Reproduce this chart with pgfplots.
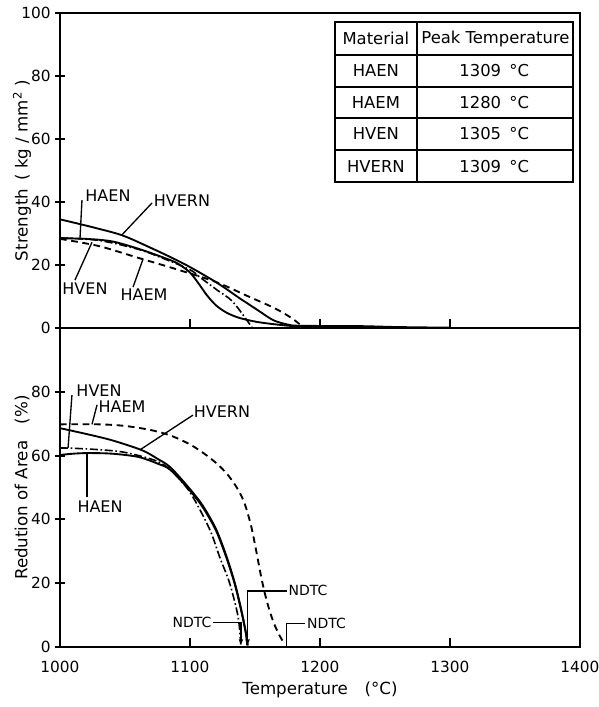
\documentclass[border=0pt]{standalone}
\usepackage{pgfplots}
\pgfplotsset{compat=1.18}
\usepackage{fontspec}
\setmainfont{DejaVu Sans}
\usetikzlibrary{arrows.meta}

\pgfplotstableread{
T S
1000 34.5
1025 32.0
1048 29.4
1069 25.6
1085 22.5
1098 19.8
1110 17.0
1121 14.3
1130 11.8
1138 9.5
1152 5.7
1164 2.5
1175 1.1
1185 0.7
1230 0.6
1260 0.3
1300 0.1
}\upHVERN
\pgfplotstableread{
T S
1000 28.5
1020 28.3
1040 27.5
1060 25.2
1078 22.6
1090 20.6
1100 17.6
1107 13.9
1113 10.4
1120 7.2
1128 4.9
1138 3.2
1152 1.9
1169 1.0
1185 0.4
1200 0.1
}\upHAEN
\pgfplotstableread{
T S
1000 28.6
1030 27.8
1060 25.0
1080 22.0
1100 18.5
1108 16.0
1121 12.0
1133 8.3
1148 0.0
}\upHVEN
\pgfplotstableread{
T S
1000 28.3
1030 26.0
1060 22.3
1090 18.6
1120 14.6
1145 10.0
1165 6.3
1178 3.2
1187 0.3
}\upHAEM

\pgfplotstableread{
T R
1000 68.6
1020 66.8
1040 64.8
1063 61.7
1075 59.0
1085 56.3
1100 49.5
1110 44.2
1120 37.0
1128 28.5
1134.5 20.0
1139.5 11.6
1143 4.5
1144.5 0.5
}\loHVERN
\pgfplotstableread{
T R
1000 60.2
1010 60.6
1022 60.8
1040 60.6
1060 59.6
1075 57.5
1085 55.5
1100 49.0
1110 43.7
1120 36.5
1128 28.0
1134.5 19.6
1139.5 11.2
1143 4.2
1144 0.5
}\loHAEN
\pgfplotstableread{
T R
1000 62.4
1010 62.3
1032 61.8
1050 61.0
1073 58.5
1085 55.5
1100 48.5
1115 37.0
1123 28.0
1130.5 20.0
1137 9.5
1139 0.8
}\loHVEN
\pgfplotstableread{
T R
1000 69.8
1030 69.8
1050 69.3
1070 68.0
1085 66.3
1100 63.5
1112 60.3
1122 57.0
1130 53.5
1137 49.3
1142 45.0
1147 38.0
1151 30.0
1155 21.5
1159 14.5
1164 8.0
1169 3.5
1173 0.8
}\loHAEM

\pgfplotsset{
  myaxis/.style={
    scale only axis, width=390pt,
    xmin=1000, xmax=1400, ymin=0, ymax=100,
    axis line style={line width=2pt},
    xtick pos=bottom, ytick pos=left,
    xtick align=inside, ytick align=center,
    major tick length=7pt,
    tick style={line width=1.4pt, black},
    /pgf/number format/1000 sep={},
    /pgf/number format/assume math mode=true,
    tick label style={font=\fontsize{11.5}{13}\selectfont},
    label style={font=\fontsize{12.5}{14}\selectfont},
    clip mode=individual,
  },
  solidc/.style={black, line width=1.4pt, smooth, tension=0.5},
  dashc/.style={black, line width=1.4pt, smooth, tension=0.5, dash pattern=on 5pt off 3.5pt},
  dotdashc/.style={black, line width=1.2pt, smooth, tension=0.5, dash pattern=on 6pt off 2pt on 1.2pt off 2pt},
}

\begin{document}
\begin{tikzpicture}
\begin{axis}[myaxis, name=top, at={(0pt,0pt)}, anchor=south west,
  height=236.25pt,
  xtick={1100,1200,1300}, xticklabels={},
  ytick={0,20,40,60,80,100},
  ylabel={Strength\enspace( kg / mm\textsuperscript{2} )},
  ylabel style={at={(axis description cs:-0.073,0.5)}, anchor=center},
]
\addplot[solidc] table[x=T,y=S] {\upHVERN};
\addplot[solidc] table[x=T,y=S] {\upHAEN};
\addplot[dotdashc] table[x=T,y=S] {\upHVEN};
\addplot[dashc] table[x=T,y=S] {\upHAEM};
\draw[line width=2pt] (rel axis cs:0,0) rectangle (rel axis cs:1,1);

\begin{scope}[font=\fontsize{12}{14}\selectfont, line width=1pt]
\node at (axis cs:1036.9,41.9) {HAEN};
\draw (axis cs:1016.9,40.6) -- (axis cs:1015.4,28.6);
\node at (axis cs:1093.8,40.3) {HVERN};
\draw (axis cs:1070.8,39.7) -- (axis cs:1047.7,29.6);
\node at (axis cs:1019.2,12.4) {HVEN};
\draw (axis cs:1011.5,15.2) -- (axis cs:1024.6,27.2);
\node at (axis cs:1064.6,10.5) {HAEM};
\draw (axis cs:1056.2,13) -- (axis cs:1063.8,21.8);
\end{scope}

\begin{scope}[line width=1.3pt]
\draw (axis cs:1211.5,97.1) rectangle (axis cs:1394.6,46.3);
\draw (axis cs:1274.6,97.1) -- (axis cs:1274.6,46.3);
\draw (axis cs:1211.5,86.7) -- (axis cs:1394.6,86.7);
\draw (axis cs:1211.5,76.5) -- (axis cs:1394.6,76.5);
\draw (axis cs:1211.5,66.7) -- (axis cs:1394.6,66.7);
\draw (axis cs:1211.5,56.5) -- (axis cs:1394.6,56.5);
\end{scope}
\begin{scope}[font=\fontsize{12.3}{14}\selectfont]
\node at (axis cs:1243,91.9) {Material};
\node at (axis cs:1335,91.9) {Peak Temperature};
\node at (axis cs:1243,81.6) {HAEN};
\node at (axis cs:1334,81.6) {1309\enspace °C};
\node at (axis cs:1243,71.6) {HAEM};
\node at (axis cs:1334,71.6) {1280\enspace °C};
\node at (axis cs:1243,61.6) {HVEN};
\node at (axis cs:1334,61.6) {1305\enspace °C};
\node at (axis cs:1243,51.4) {HVERN};
\node at (axis cs:1334,51.4) {1309\enspace °C};
\end{scope}
\end{axis}

\begin{axis}[myaxis, name=bot, at={(0pt,0pt)}, anchor=north west,
  height=239.25pt,
  xtick={1000,1100,1200,1300,1400},
  ytick={0,20,40,60,80},
  xticklabel style={yshift=-7pt},
  xlabel={Temperature\quad(°C)},
  xlabel style={at={(axis description cs:0.5,-0.135)}, anchor=center},
  ylabel={Redution of Area\quad(\%)},
  ylabel style={at={(axis description cs:-0.073,0.5)}, anchor=center},
]
\addplot[solidc] table[x=T,y=R] {\loHVERN};
\addplot[solidc] table[x=T,y=R] {\loHAEN};
\addplot[dotdashc] table[x=T,y=R] {\loHVEN};
\addplot[dashc] table[x=T,y=R] {\loHAEM};
\draw[line width=2pt] (rel axis cs:0,0) rectangle (rel axis cs:1,1);

\begin{scope}[font=\fontsize{12}{14}\selectfont, line width=1pt]
\node at (axis cs:1030,80.3) {HVEN};
\draw (axis cs:1009.2,79) -- (axis cs:1006.2,62.4);
\node at (axis cs:1047.7,75.2) {HAEM};
\draw (axis cs:1028.5,75.9) -- (axis cs:1024.6,69.8);
\node at (axis cs:1124.6,73.7) {HVERN};
\draw (axis cs:1102.3,72.7) -- (axis cs:1061.5,61.8);
\node at (axis cs:1030.8,43.9) {HAEN};
\draw (axis cs:1020.8,47) -- (axis cs:1020.8,60.6);
\end{scope}
\begin{scope}[font=\fontsize{10.5}{12}\selectfont, line width=1pt]
\node[anchor=east, inner sep=1pt] at (axis cs:1118,7.6) {NDTC};
\draw[-{Latex[length=5pt,width=3.5pt]}] (axis cs:1118,7.6) -- (axis cs:1139.2,7.6) -- (axis cs:1139.2,0.3);
\node[anchor=west, inner sep=1pt] at (axis cs:1174.4,17.6) {NDTC};
\draw[-{Latex[length=5pt,width=3.5pt]}] (axis cs:1174.4,17.6) -- (axis cs:1144.3,17.6) -- (axis cs:1144.3,0.3);
\node[anchor=west, inner sep=1pt] at (axis cs:1188.5,7.4) {NDTC};
\draw (axis cs:1188.5,7.4) -- (axis cs:1174.4,7.4) -- (axis cs:1174.4,0.3);
\end{scope}
\end{axis}

\pgfresetboundingbox
\path (-45pt,-284.25pt) rectangle (404.25pt,246pt);
\end{tikzpicture}
\end{document}
